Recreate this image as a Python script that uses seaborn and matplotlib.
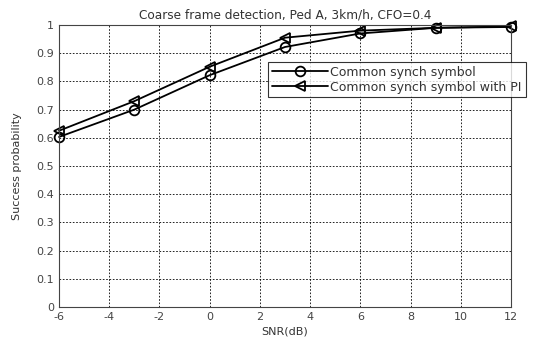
import matplotlib
matplotlib.use("Agg")
import matplotlib.pyplot as plt
import seaborn as sns
import pandas as pd

snr = [-6, -3, 0, 3, 6, 9, 12]
common = [0.603, 0.70, 0.822, 0.922, 0.97, 0.99, 0.993]
common_pi = [0.625, 0.73, 0.852, 0.955, 0.98, 0.99, 0.995]
series_names = ["Common synch symbol", "Common synch symbol with PI"]
xticks = [-6, -4, -2, 0, 2, 4, 6, 8, 10, 12]
yticks = [0, 0.1, 0.2, 0.3, 0.4, 0.5, 0.6, 0.7, 0.8, 0.9, 1]

df = pd.DataFrame({
    "SNR": snr * 2,
    "P": common + common_pi,
    "series": [series_names[0]] * len(snr) + [series_names[1]] * len(snr),
})

sns.set_style("white")
plt.rcParams["font.family"] = ["DejaVu Sans"]
fig = plt.figure(figsize=(5.42, 3.37), dpi=100)
ax = fig.add_axes([59/542, 1 - 307/337, (511-59)/542, (307-25)/337])

sns.lineplot(data=df, x="SNR", y="P", hue="series", style="series",
             markers={series_names[0]: "o", series_names[1]: "<"},
             dashes=False, palette=["black", "black"], ax=ax,
             markersize=7, markerfacecolor="none", markeredgecolor="black",
             markeredgewidth=1.3, linewidth=1.3, legend=True)
for ln in ax.lines:
    ln.set_clip_on(False)

ax.set_xlim(-6, 12)
ax.set_ylim(0, 1)
ax.set_xticks(xticks)
ax.set_yticks(yticks)
ax.set_xticklabels([str(t) for t in xticks])
ax.set_yticklabels(["0", "0.1", "0.2", "0.3", "0.4", "0.5", "0.6", "0.7", "0.8", "0.9", "1"])
ax.grid(True, linestyle=(0, (2, 2)), color="black", linewidth=0.6)
ax.tick_params(axis="both", labelsize=8, colors="#444444", length=3, direction="in")
for s in ax.spines.values():
    s.set_color("#444444")
    s.set_linewidth(0.8)
ax.set_xlabel("SNR(dB)", fontsize=8, color="#333333", labelpad=3)
ax.set_ylabel("Success probability", fontsize=8, color="#333333", labelpad=10)
ax.set_title("Coarse frame detection, Ped A, 3km/h, CFO=0.4", fontsize=8.7, color="#333333", pad=5)

handles, labels = ax.get_legend_handles_labels()
leg = ax.legend(handles, labels, loc="upper left",
                bbox_to_anchor=(268/542, 1 - 62/337), bbox_transform=fig.transFigure,
                fontsize=9, frameon=True, fancybox=False, edgecolor="black",
                handlelength=4.5, handletextpad=0.2, borderpad=0.3, labelspacing=0.15,
                borderaxespad=0)
leg.get_frame().set_linewidth(0.8)
for t in leg.get_texts():
    t.set_color("#333333")

fig.savefig("out.png", dpi=100)
